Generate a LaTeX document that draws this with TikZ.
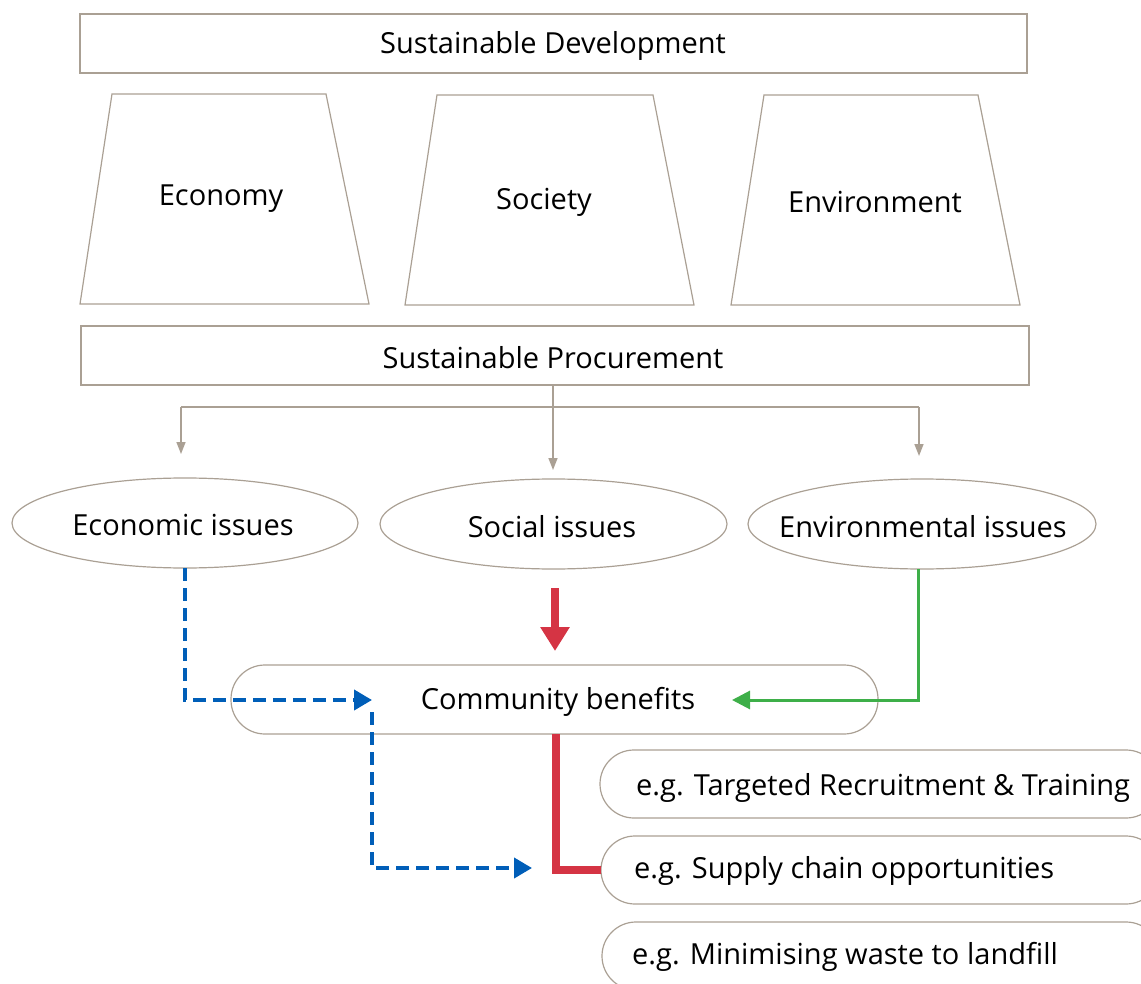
\documentclass[tikz,border=0pt]{standalone}
\usepackage{fontspec}
\setmainfont{Open Sans}
\usetikzlibrary{arrows.meta}
\definecolor{frame}{RGB}{170,160,148}
\definecolor{bl}{RGB}{0,94,184}
\definecolor{rd}{RGB}{213,52,68}
\definecolor{gr}{RGB}{62,175,73}
\tikzset{
  shp/.style={draw=frame,line width=1.2pt},
  lbl/.style={inner sep=0pt,font=\fontsize{29}{33}\selectfont},
  pill/.style={shp,rounded corners=34pt},
  gline/.style={draw=frame,line width=1.5pt},
  garrow/.style={gline,-{Triangle[width=9pt,length=12pt]}},
  bluearrow/.style={draw=bl,line width=4pt,dash pattern=on 13pt off 7pt,-{Triangle[width=20pt,length=18pt]}},
}
\begin{document}
\begin{tikzpicture}[x=1pt,y=-1pt]
\useasboundingbox (0,0) rectangle (1141,984);
\clip (0,0) rectangle (1141,984);
% top
\draw[shp] (80,14) rectangle (1027,73);
\node[lbl] (sd) at (553,46) {Sustainable Development};
% trapezoids
\draw[shp] (112,94) -- (326,94) -- (369,304) -- (80,304) -- cycle;
\node[lbl] (econ) at (221,199) {Economy};
\draw[shp] (437,95) -- (653,95) -- (694,305) -- (405,305) -- cycle;
\node[lbl] (soc) at (544,202) {Society};
\draw[shp] (764,95) -- (978,95) -- (1020,305) -- (731,305) -- cycle;
\node[lbl] (env) at (875,202) {Environment};
% procurement
\draw[shp] (81,326) rectangle (1029,385);
\node[lbl] (sp) at (553,358) {Sustainable Procurement};
\coordinate (sps) at (553,385);
% issues
\draw[shp] (185,523) ellipse (173 and 45);
\node[lbl] (ei) at (183,525) {Economic issues};
\draw[shp] (553.5,524) ellipse (173.5 and 45);
\node[lbl] (si) at (552,527) {Social issues};
\draw[shp] (922,524) ellipse (174 and 45);
\node[lbl] (vi) at (923,527) {Environmental issues};
\coordinate (eis) at (185,568);
\coordinate (vis) at (918,569);
% grey connectors
\coordinate (jl) at (181,407);
\coordinate (jr) at (919,407);
\coordinate (tl) at (181,454);
\coordinate (tm) at (553,470);
\coordinate (tr) at (919,456);
\draw[garrow] (sps) -- (tm);
\draw[gline] (jl) -- (jr);
\draw[garrow] (jl) -- (tl);
\draw[garrow] (jr) -- (tr);
% community benefits
\draw[pill] (231,665) rectangle (878,734);
\node[lbl] (cb) at (558,702) {Community benefits};
% example pills
\draw[pill] (600,750) rectangle (1160,818);
\node[lbl,anchor=west] (ex1) at (636,788) {e.g. Targeted Recruitment \& Training};
\draw[pill] (601,836) rectangle (1160,904);
\node[lbl,anchor=west] (ex2) at (634,871) {e.g. Supply chain opportunities};
\draw[pill] (602,922) rectangle (1160,990);
\node[lbl,anchor=west] (ex3) at (632,957) {e.g. Minimising waste to landfill};
\coordinate (ex2w) at (601,870);
% blue dashed
\coordinate (b1) at (185,700);
\coordinate (b1t) at (372,700);
\coordinate (b2s) at (372,712);
\coordinate (b2) at (372,868);
\coordinate (b2t) at (532,868);
\draw[bluearrow] (eis) -- (b1) -- (b1t);
\draw[bluearrow] (b2s) -- (b2) -- (b2t);
% red
\coordinate (r0) at (555,588);
\coordinate (r1) at (555,651);
\draw[draw=rd,line width=8pt,-{Triangle[width=28pt,length=24pt]}] (r0) -- (r1);
\coordinate (rt) at (556,734);
\coordinate (rc) at (556,870);
\draw[draw=rd,line width=8pt] (rt) -- (rc) -- (ex2w);
% green
\coordinate (g1) at (918,700);
\coordinate (g1t) at (732,700);
\draw[draw=gr,line width=3pt,-{Triangle[width=18pt,length=18pt]}] (vis) -- (g1) -- (g1t);
\end{tikzpicture}
\end{document}
